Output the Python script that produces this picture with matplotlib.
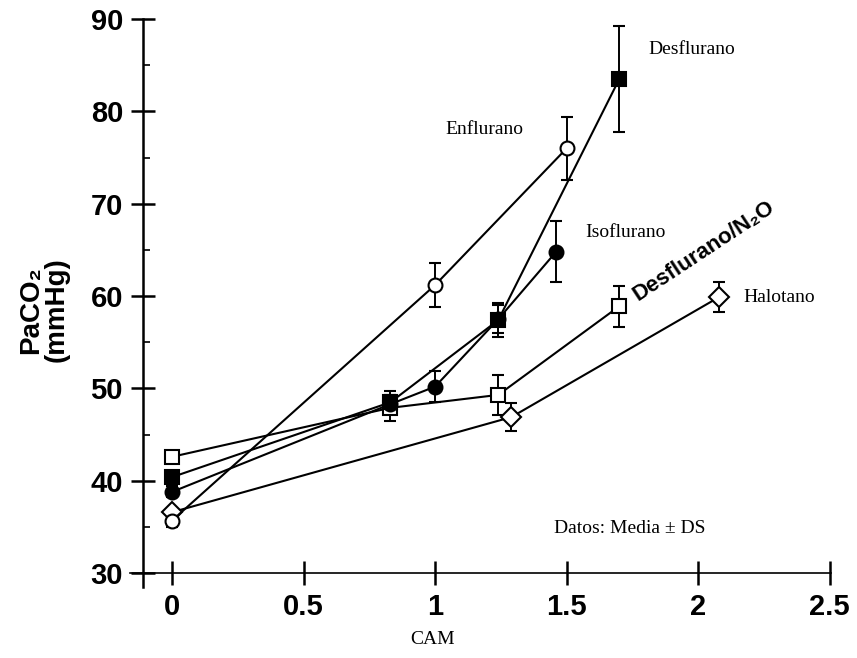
import numpy as np
import matplotlib
matplotlib.use("Agg")
import matplotlib.pyplot as plt
from matplotlib.ticker import MultipleLocator

############################### DATA

cam_desf = [0, 0.83, 1.24, 1.70]
paco2_desf = [40.4, 48.5, 57.4, 83.5]
sd_desf = [0.6, 1.2, 1.8, 5.7]

cam_enf = [0, 1.0, 1.50]
paco2_enf = [35.7, 61.2, 76.0]
sd_enf = [0.7, 2.4, 3.4]

cam_iso = [0, 0.83, 1.0, 1.24, 1.46]
paco2_iso = [38.8, 48.3, 50.2, 57.5, 64.8]
sd_iso = [0.6, 1.0, 1.7, 1.5, 3.3]

cam_n2o = [0, 0.83, 1.24, 1.70]
paco2_n2o = [42.6, 47.9, 49.3, 58.9]
sd_n2o = [0.5, 1.4, 2.2, 2.2]

cam_hal = [0, 1.29, 2.08]
paco2_hal = [36.6, 46.9, 59.9]
sd_hal = [0.5, 1.5, 1.6]

x_ticks = [0, 0.5, 1, 1.5, 2, 2.5]
x_ticklabels = ["0", "0.5", "1", "1.5", "2", "2.5"]
y_ticks = [30, 40, 50, 60, 70, 80, 90]

############################### STYLE

# condensed bold sans for the axis numbers, serif for the annotations
NARROW = ["Liberation Sans Narrow", "DejaVu Sans Condensed", "Liberation Sans", "DejaVu Sans"]
SERIF = ["Liberation Serif", "DejaVu Serif"]

fig = plt.figure(figsize=(8.57, 6.58), dpi=100)
ax = fig.add_axes([0.1517, 0.1079, 0.818, 0.8632])

def series(x, y, err, marker, fill):
    ax.errorbar(x, y, yerr=err, color="black", linewidth=1.5, elinewidth=1.4,
                capsize=4, capthick=1.4, marker=marker, markersize=10,
                markerfacecolor=fill, markeredgecolor="black",
                markeredgewidth=1.5, zorder=3)

series(cam_hal, paco2_hal, sd_hal, "D", "white")
series(cam_n2o, paco2_n2o, sd_n2o, "s", "white")
series(cam_enf, paco2_enf, sd_enf, "o", "white")
series(cam_iso, paco2_iso, sd_iso, "o", "black")
series(cam_desf, paco2_desf, sd_desf, "s", "black")

ax.set_xlim(-0.16, 2.505)
ax.set_ylim(28.5, 90)

for s in ["top", "right"]:
    ax.spines[s].set_visible(False)
ax.spines["left"].set_position(("data", -0.11))
ax.spines["bottom"].set_position(("data", 30))
ax.spines["left"].set_linewidth(1.8)
ax.spines["bottom"].set_linewidth(1.2)

ax.set_xticks(x_ticks)
ax.set_xticklabels(x_ticklabels, family=NARROW, fontweight="bold", fontsize=21)
ax.set_yticks(y_ticks)
ax.set_yticklabels([str(v) for v in y_ticks], family=NARROW, fontweight="bold", fontsize=21)
ax.yaxis.set_minor_locator(MultipleLocator(5))
ax.tick_params(axis="both", which="major", direction="inout", length=17, width=1.8, pad=6)
ax.tick_params(axis="y", which="minor", direction="in", length=5, width=1.2)

############################### TEXT

ax.text(1.81, 86.7, "Desflurano", family=SERIF, fontsize=14, va="center")
ax.text(1.04, 78.0, "Enflurano", family=SERIF, fontsize=14, va="center")
ax.text(1.57, 66.9, "Isoflurano", family=SERIF, fontsize=14, va="center")
ax.text(2.17, 59.8, "Halotano", family=SERIF, fontsize=14, va="center")
ax.text(1.45, 34.8, "Datos: Media ± DS", family=SERIF, fontsize=14, va="center")
ax.text(1.77, 59.4, "Desflurano/N₂O", family=NARROW, fontweight="bold",
        fontsize=16, rotation=33.5, ha="left", va="baseline",
        rotation_mode="anchor")

fig.text(433 / 857, 1 - 640 / 658, "CAM", family=SERIF, fontsize=14,
         ha="center", va="center")
fig.text(44 / 857, 1 - 310 / 658, "PaCO₂\n(mmHg)", family=NARROW,
         fontweight="bold", fontsize=20, rotation=90, ha="center",
         va="center", multialignment="center", linespacing=0.95)

plt.savefig("out.png", dpi=100)
